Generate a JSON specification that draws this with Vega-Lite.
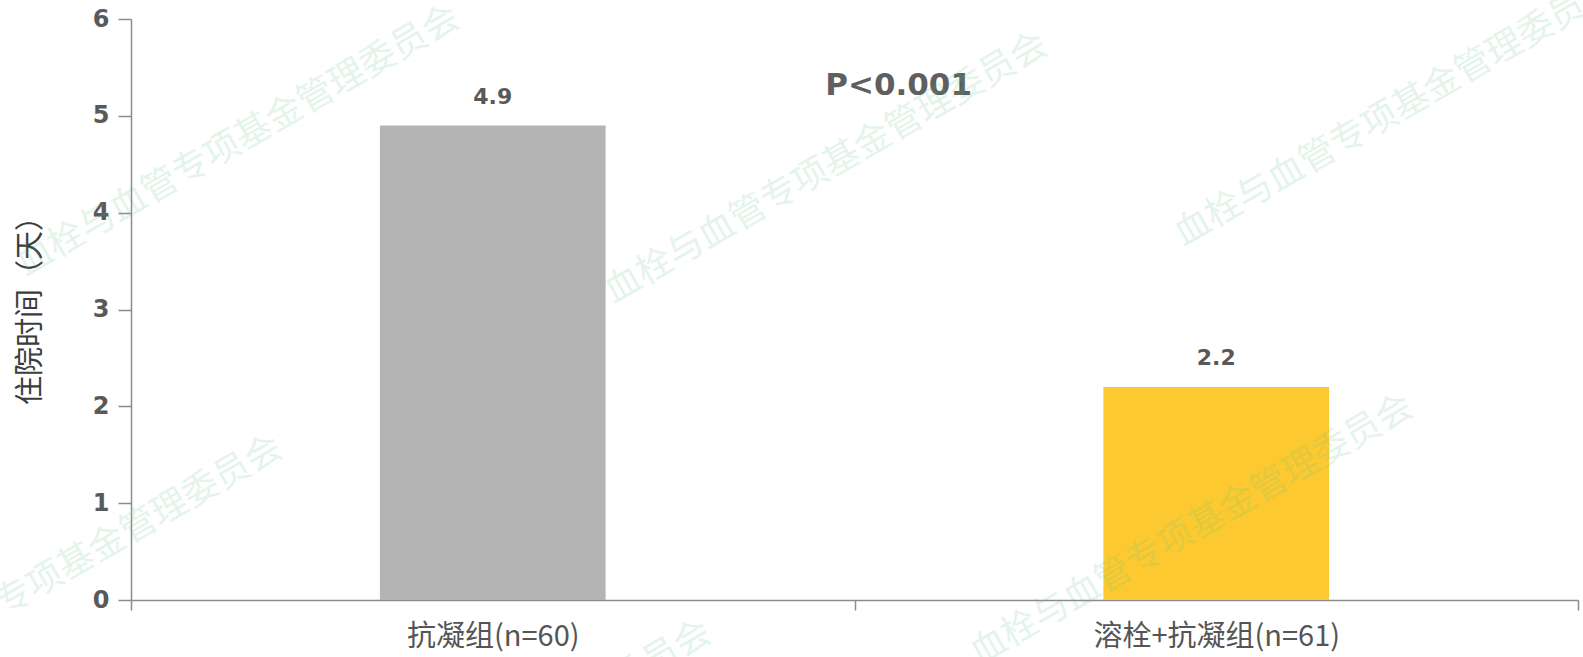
{
  "$schema": "https://vega.github.io/schema/vega-lite/v6.json",
  "width": 1447,
  "height": 581,
  "autosize": "none",
  "padding": {"left": 131, "top": 19, "right": 5, "bottom": 57},
  "background": "white",
  "config": {"view": {"stroke": null}},
  "datasets": {
    "stay": [
      {"group": "抗凝组(n=60)", "days": 4.9},
      {"group": "溶栓+抗凝组(n=61)", "days": 2.2}
    ],
    "note": [
      {"pos": 1.061, "level": 5.31, "label": "P<0.001"}
    ],
    "mark": [
      {"pos": 0.148, "level": 4.74, "label": "血栓与血管专项基金管理委员会"},
      {"pos": 0.961, "level": 4.461, "label": "血栓与血管专项基金管理委员会"},
      {"pos": 1.748, "level": 5.05, "label": "血栓与血管专项基金管理委员会"},
      {"pos": -0.097, "level": 0.299, "label": "血栓与血管专项基金管理委员会"},
      {"pos": 0.496, "level": -1.611, "label": "血栓与血管专项基金管理委员会"},
      {"pos": 1.466, "level": 0.723, "label": "血栓与血管专项基金管理委员会"}
    ]
  },
  "layer": [
    {
      "data": {"name": "stay"},
      "layer": [
        {
          "mark": {"type": "bar", "width": {"band": 0.312}},
          "encoding": {
            "x": {
              "field": "group",
              "type": "nominal",
              "sort": null,
              "scale": {"paddingInner": 0, "paddingOuter": 0},
              "axis": {
                "title": null,
                "labelAngle": 0,
                "labelLimit": 0,
                "labelFont": "Noto Sans CJK SC",
                "labelFontSize": 29,
                "labelColor": "#555555",
                "labelPadding": 12,
                "tickBand": "extent",
                "tickSize": 10,
                "tickColor": "#8c8c8c",
                "tickWidth": 1.5,
                "domainColor": "#8c8c8c",
                "domainWidth": 1.5
              }
            },
            "y": {
              "field": "days",
              "type": "quantitative",
              "scale": {"domain": [0, 6], "nice": false},
              "axis": {
                "title": "住院时间（天）",
                "titleFont": "Noto Sans CJK SC",
                "titleFontSize": 29,
                "titleFontWeight": "normal",
                "titleColor": "#3c3c3c",
                "titleAngle": 270,
                "titleX": -101,
                "titleY": 284,
                "titleAlign": "center",
                "titleBaseline": "middle",
                "values": [0, 1, 2, 3, 4, 5, 6],
                "format": ".0f",
                "grid": false,
                "labelFont": "DejaVu Sans",
                "labelFontSize": 24,
                "labelFontWeight": "bold",
                "labelColor": "#595959",
                "labelPadding": 9,
                "tickSize": 13,
                "tickColor": "#8c8c8c",
                "tickWidth": 1.5,
                "domainColor": "#8c8c8c",
                "domainWidth": 1.5
              }
            },
            "color": {
              "field": "group",
              "type": "nominal",
              "scale": {"domain": ["抗凝组(n=60)", "溶栓+抗凝组(n=61)"], "range": ["#b4b4b4", "#fcca30"]},
              "legend": null
            }
          }
        },
        {
          "mark": {
            "type": "text",
            "font": "DejaVu Sans",
            "fontSize": 22,
            "fontWeight": "bold",
            "color": "#595959",
            "baseline": "alphabetic",
            "dy": -22
          },
          "encoding": {
            "x": {"field": "group", "type": "nominal", "sort": null},
            "y": {"field": "days", "type": "quantitative"},
            "text": {"field": "days", "type": "quantitative", "format": ".1f"}
          }
        }
      ]
    },
    {
      "data": {"name": "note"},
      "mark": {
        "type": "text",
        "font": "DejaVu Sans",
        "fontSize": 31,
        "fontWeight": "bold",
        "color": "#5f5f5f",
        "baseline": "middle",
        "align": "center"
      },
      "encoding": {
        "x": {"field": "pos", "type": "quantitative", "scale": {"domain": [0, 2], "nice": false, "zero": false}, "axis": null},
        "y": {"field": "level", "type": "quantitative"},
        "text": {"field": "label"}
      }
    },
    {
      "data": {"name": "mark"},
      "mark": {
        "type": "text",
        "font": "Noto Sans CJK SC",
        "fontSize": 36,
        "angle": -30,
        "color": "#5cc08a",
        "opacity": 0.16,
        "baseline": "middle",
        "align": "center",
        "clip": false
      },
      "encoding": {
        "x": {"field": "pos", "type": "quantitative", "scale": {"domain": [0, 2], "nice": false, "zero": false}, "axis": null},
        "y": {"field": "level", "type": "quantitative"},
        "text": {"field": "label"}
      }
    }
  ],
  "resolve": {"scale": {"x": "independent"}, "axis": {"x": "independent"}}
}
